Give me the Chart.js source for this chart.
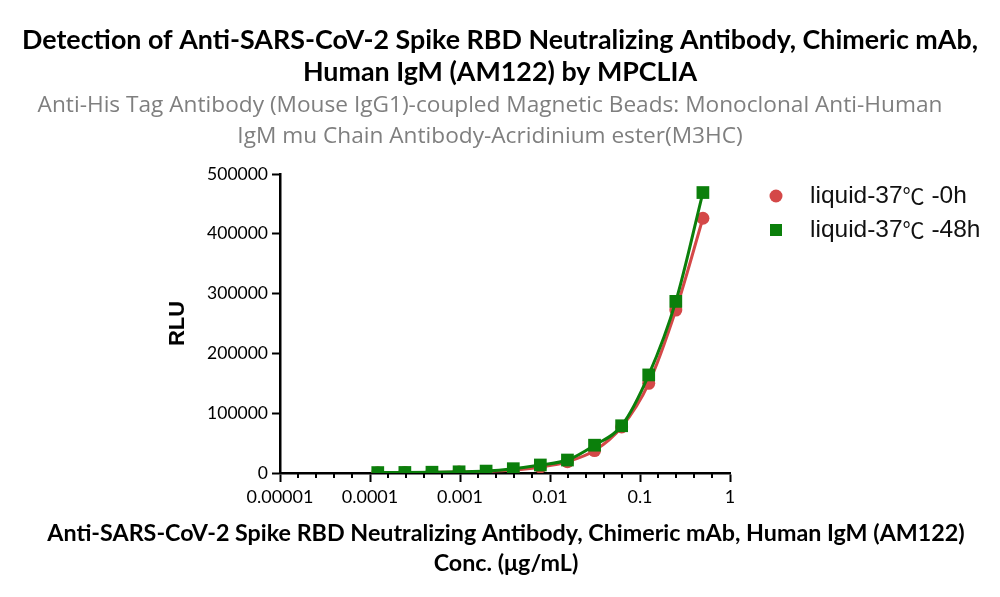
<!DOCTYPE html>
<html>
<head>
<meta charset="utf-8">
<script src="https://cdn.jsdelivr.net/npm/chart.js@4/dist/chart.umd.min.js"></script>
<style>
  body { margin: 0; background: #fff; }
</style>
</head>
<body>
<canvas id="chart" width="1000" height="597"></canvas>
<script>
// concentration (ug/mL), 2-fold dilution series
const conc = [0.5, 0.25, 0.125, 0.0625, 0.03125, 0.01563, 0.00781, 0.00391, 0.00195, 0.000977, 0.000488, 0.000244, 0.000122];
const rlu0h = [426000, 272500, 150000, 77000, 37500, 18900, 10000, 4800, 2400, 1500, 1000, 700, 500];
const rlu48h = [469000, 287000, 164000, 79000, 46500, 21700, 13400, 7200, 3200, 2000, 1300, 900, 700];
const seriesNames = ["liquid-37\u2103 -0h", "liquid-37\u2103 -48h"];

const xTickLabels = ["0.00001", "0.0001", "0.001", "0.01", "0.1", "1"];
const yTicks = [0, 100000, 200000, 300000, 400000, 500000];

const titleLines = [
    "Detection of Anti-SARS-CoV-2 Spike RBD Neutralizing Antibody, Chimeric mAb,",
    "Human IgM (AM122) by MPCLIA"
];
const subtitleLines = [
    "Anti-His Tag Antibody (Mouse IgG1)-coupled Magnetic Beads: Monoclonal Anti-Human",
    "IgM mu Chain Antibody-Acridinium ester(M3HC)"
];
const xTitleLines = [
    "Anti-SARS-CoV-2 Spike RBD Neutralizing Antibody, Chimeric mAb, Human IgM (AM122)",
    "Conc. (\u03bcg/mL)"
];

const RED = "#d44848";
const GREEN = "#0b7f0b";

function toPoints(xs, ys) {
    return xs.map((x, i) => ({ x: x, y: ys[i] }));
}

function isMajor(v) {
    const l = Math.log10(v);
    return Math.abs(l - Math.round(l)) < 1e-6;
}

// draw centred text block, font size picked so the first line is `width` wide
function drawBlock(ctx, lines, family, weight, width, cx, y0, step, color) {
    ctx.font = weight + " 20px " + family;
    const size = 20 * width / ctx.measureText(lines[0]).width;
    ctx.font = weight + " " + size.toFixed(2) + "px " + family;
    ctx.fillStyle = color;
    ctx.textAlign = "center";
    ctx.textBaseline = "middle";
    lines.forEach((l, i) => ctx.fillText(l, cx, y0 + i * step));
}

const textBlocks = {
    id: "textBlocks",
    afterDraw(chart) {
        const ctx = chart.ctx;
        const area = chart.chartArea;
        ctx.save();
        drawBlock(ctx, titleLines, "Lato", "bold", 956, 500, 40, 32, "#000");
        drawBlock(ctx, subtitleLines, "'Open Sans'", "normal", 905, 490, 106, 31, "#7f7f7f");
        drawBlock(ctx, xTitleLines, "Lato", "bold", 918, (area.left + area.right) / 2 + 1, 533, 30, "#000");
        ctx.restore();
    }
};

// short minor ticks on the log axis
const minorTicks = {
    id: "minorTicks",
    afterDraw(chart) {
        const xs = chart.scales.x;
        const ctx = chart.ctx;
        ctx.save();
        ctx.strokeStyle = "#000";
        ctx.lineWidth = 2;
        xs.ticks.forEach(t => {
            if (isMajor(t.value)) return;
            const px = Math.round(xs.getPixelForValue(t.value));
            ctx.beginPath();
            ctx.moveTo(px, xs.top);
            ctx.lineTo(px, xs.top + 5);
            ctx.stroke();
        });
        ctx.restore();
    }
};

// legend on the right, outside the plot
const sideLegend = {
    id: "sideLegend",
    afterDraw(chart) {
        const ctx = chart.ctx;
        const area = chart.chartArea;
        const lx = area.right + 46;
        let ly = area.top + 22;
        ctx.save();
        ctx.textBaseline = "middle";
        ctx.textAlign = "left";
        seriesNames.forEach(name => {
            const ds = chart.data.datasets.find(d => d.label === name);
            ctx.fillStyle = ds.backgroundColor;
            if (ds.pointStyle === "rect") {
                ctx.fillRect(lx - 6, ly - 6, 12, 12);
            } else {
                ctx.beginPath();
                ctx.arc(lx, ly, 6.5, 0, Math.PI * 2);
                ctx.fill();
            }
            ctx.fillStyle = "#111";
            // the degree sign in a CJK face, as in the original
            const parts = name.split("\u2103");
            let tx = lx + 34;
            ctx.font = "24.5px 'Liberation Sans', Arial, sans-serif";
            ctx.fillText(parts[0], tx, ly);
            tx += ctx.measureText(parts[0]).width;
            ctx.font = "22px 'Noto Sans CJK SC', sans-serif";
            ctx.fillText("\u2103", tx, ly);
            tx += ctx.measureText("\u2103").width;
            ctx.font = "24.5px 'Liberation Sans', Arial, sans-serif";
            ctx.fillText(parts[1], tx, ly);
            ly += 34;
        });
        ctx.restore();
    }
};

const ctx = document.getElementById("chart").getContext("2d");
const chart = new Chart(ctx, {
    type: "scatter",
    data: {
        datasets: [{
            label: seriesNames[0],
            data: toPoints(conc, rlu0h),
            showLine: true,
            cubicInterpolationMode: "monotone",
            borderColor: RED,
            backgroundColor: RED,
            borderWidth: 3,
            pointStyle: "circle",
            pointRadius: 6.5,
            pointHoverRadius: 6.5,
            pointBorderWidth: 0,
            order: 1
        }, {
            label: seriesNames[1],
            data: toPoints(conc, rlu48h),
            showLine: true,
            cubicInterpolationMode: "monotone",
            borderColor: GREEN,
            backgroundColor: GREEN,
            borderWidth: 3,
            pointStyle: "rect",
            pointRadius: 9,
            pointHoverRadius: 9,
            pointBorderWidth: 0,
            order: 0
        }]
    },
    options: {
        responsive: false,
        animation: false,
        devicePixelRatio: 1,
        layout: { padding: { left: 160, right: 270, top: 174, bottom: 0 } },
        plugins: {
            legend: { display: false },
            tooltip: { enabled: false },
            title: { display: false }
        },
        scales: {
            x: {
                type: "logarithmic",
                min: 0.00001,
                max: 1,
                afterBuildTicks(scale) {
                    const ticks = [];
                    for (let e = -5; e <= 0; e++) {
                        for (let j = 0; j < 5; j++) {
                            if (e === 0 && j > 0) break;
                            ticks.push({ value: Math.pow(10, e + j / 5) });
                        }
                    }
                    scale.ticks = ticks;
                },
                afterFit(scale) { scale.height = 124; },
                border: { color: "#000", width: 2.5 },
                grid: {
                    drawOnChartArea: false,
                    tickLength: 9,
                    tickWidth: 2,
                    tickColor: c => (c.tick && isMajor(c.tick.value)) ? "#000" : "rgba(0,0,0,0)"
                },
                ticks: {
                    autoSkip: false,
                    maxRotation: 0,
                    color: "#000",
                    padding: 4,
                    font: { family: "Lato", size: 18 },
                    callback: value => isMajor(value) ? xTickLabels[Math.round(Math.log10(value)) + 5] : ""
                },
                title: { display: false }
            },
            y: {
                min: 0,
                max: 500000,
                afterBuildTicks(scale) {
                    scale.ticks = yTicks.map(v => ({ value: v }));
                },
                afterFit(scale) { scale.width = 120; },
                border: { color: "#000", width: 2.5 },
                grid: {
                    drawOnChartArea: false,
                    tickLength: 8,
                    tickWidth: 2,
                    tickColor: "#000"
                },
                ticks: {
                    color: "#000",
                    padding: 4,
                    font: { family: "Lato", size: 17.5 },
                    callback: v => String(v)
                },
                title: {
                    display: true,
                    text: "RLU",
                    color: "#000",
                    font: { family: "'Liberation Sans', Arial, sans-serif", size: 22, weight: "bold" },
                    padding: { top: 5, bottom: 0 }
                }
            }
        }
    },
    plugins: [minorTicks, sideLegend, textBlocks]
});
</script>
</body>
</html>
